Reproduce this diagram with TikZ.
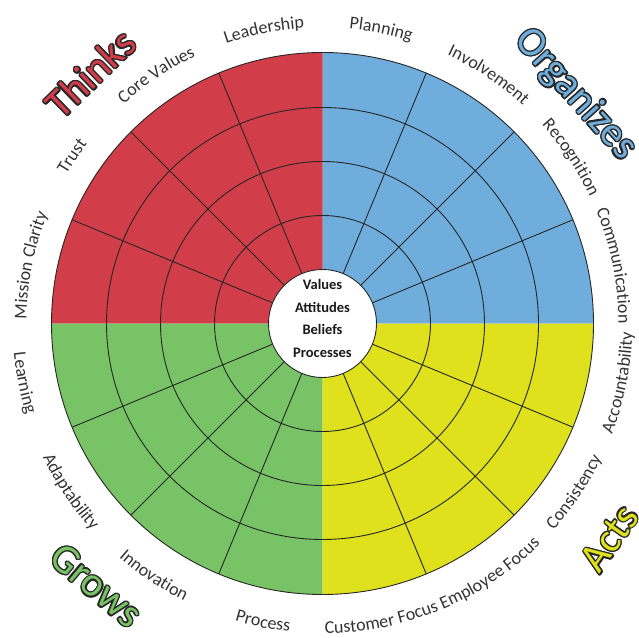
\documentclass[tikz,border=0pt]{standalone}
\usepackage{fontspec}
\setmainfont{Carlito}
\usetikzlibrary{decorations.text}

\definecolor{thinksred}{HTML}{D13D49}
\definecolor{organizesblue}{HTML}{6FAEDC}
\definecolor{growsgreen}{HTML}{78C365}
\definecolor{actsyellow}{HTML}{DFE11C}
\definecolor{labelgray}{HTML}{333333}

\newcommand{\labelfont}{\fontsize{18}{18}\selectfont\color{labelgray}}
% label on the upper half runs clockwise, on the lower half anticlockwise
\newcommand{\toplabel}[2]{\path[decorate, decoration={text along path, text={|\labelfont|#2}, text align=center}]
    (#1+30:296) arc[start angle=#1+30, end angle=#1-30, radius=296pt];}
\newcommand{\bottomlabel}[2]{\path[decorate, decoration={text along path, text={|\labelfont|#2}, text align=center}]
    (#1-30:310) arc[start angle=#1-30, end angle=#1+30, radius=310pt];}

\tikzset{
    wheel-line/.style = {draw=black!85, line width=0.9pt},
    hub/.style = {circle, draw=black!85, fill=white, line width=0.9pt, minimum size=108pt, inner sep=0pt},
    hub-text/.style = {align=center, font=\bfseries\fontsize{14.5}{22.5}\selectfont, text=black!90},
    big-word/.style = {font=\fontsize{41}{41}\selectfont, inner sep=0pt},
}

\begin{document}
\begin{tikzpicture}[x=1pt, y=1pt]
\useasboundingbox (-322.5,-313.5) rectangle (316.5,323.5);

% quarters
\fill[organizesblue] (0,0) -- (0:271) arc[start angle=0, end angle=90, radius=271pt] -- cycle;
\fill[thinksred] (0,0) -- (90:271) arc[start angle=90, end angle=180, radius=271pt] -- cycle;
\fill[growsgreen] (0,0) -- (180:271) arc[start angle=180, end angle=270, radius=271pt] -- cycle;
\fill[actsyellow] (0,0) -- (270:271) arc[start angle=270, end angle=360, radius=271pt] -- cycle;

% rings and spokes
\foreach \rad in {108,162,216,271}
    \draw[wheel-line] (0,0) circle[radius=\rad pt];
\foreach \ang in {22.5,45,67.5,112.5,135,157.5,202.5,225,247.5,292.5,315,337.5}
    \draw[wheel-line] (\ang:54) -- (\ang:271);

% hub
\node[hub] (hub) at (0,0) {};
\node[hub-text] (core) at (0,5) {Values\\Attitudes\\Beliefs\\Processes};

% segment labels
\foreach \ang/\lbl in {11.25/Communication, 33.75/Recognition, 56.25/Involvement, 78.75/Planning,
    101.25/Leadership, 123.75/Core Values, 146.25/Trust, 168.75/Mission Clarity}{
    \edef\doit{\noexpand\toplabel{\ang}{\lbl}}\doit
}
\foreach \ang/\lbl in {191.25/Learning, 213.75/Adaptability, 236.25/Innovation, 258.75/Process,
    281.25/Customer Focus, 303.75/Employee Focus, 326.25/Consistency, 348.75/Accountability}{
    \edef\doit{\noexpand\bottomlabel{\ang}{\lbl}}\doit
}

% quarter titles, outlined
\foreach \word/\col/\px/\py/\rot in {Thinks/thinksred/-232/250/44, Organizes/organizesblue/253/229/-48,
    Grows/growsgreen/-226/-262/-40, Acts/actsyellow/287/-215/55}{
    \foreach \off in {0,30,...,330}
        \node[big-word, text=black!85, rotate=\rot, shift={(\off:1.4)}] at (\px,\py) {\word};
    \node[big-word, text=\col, rotate=\rot] (\word) at (\px,\py) {\word};
}
\end{tikzpicture}
\end{document}
